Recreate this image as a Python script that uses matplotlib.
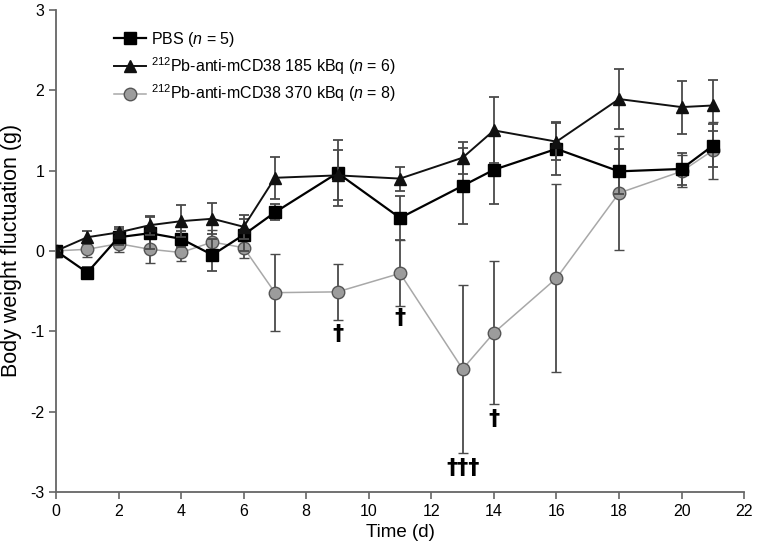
import matplotlib
matplotlib.use("Agg")
import matplotlib.pyplot as plt

plt.rcParams["font.family"] = ["Liberation Sans", "DejaVu Sans"]
plt.rcParams["mathtext.fontset"] = "custom"
plt.rcParams["mathtext.rm"] = "Liberation Sans"
plt.rcParams["mathtext.it"] = "Liberation Sans:italic"
plt.rcParams["axes.unicode_minus"] = False

days = [0, 1, 2, 3, 4, 5, 6, 7, 9, 11, 13, 14, 16, 18, 20, 21]

pbs_mean = [0, -0.27, 0.17, 0.22, 0.15, -0.05, 0.2, 0.48, 0.97, 0.41, 0.81, 1.01, 1.27, 0.99, 1.02, 1.31]
pbs_err = [0, 0.07, 0.1, 0.2, 0.1, 0.2, 0.2, 0.1, 0.41, 0.27, 0.47, 0.43, 0.33, 0.28, 0.2, 0.27]

low_mean = [0, 0.17, 0.23, 0.32, 0.37, 0.4, 0.3, 0.91, 0.94, 0.9, 1.16, 1.5, 1.36, 1.89, 1.79, 1.81]
low_err = [0, 0.08, 0.07, 0.12, 0.2, 0.19, 0.15, 0.26, 0.31, 0.15, 0.2, 0.41, 0.23, 0.37, 0.33, 0.32]

high_mean = [0, 0.02, 0.09, 0.02, -0.02, 0.11, 0.04, -0.52, -0.51, -0.28, -1.47, -1.02, -0.34, 0.72, 0.99, 1.25]
high_err = [0, 0.1, 0.1, 0.17, 0.1, 0.15, 0.13, 0.48, 0.35, 0.41, 1.05, 0.89, 1.17, 0.71, 0.2, 0.35]

death_days = [9, 11, 13, 14]
death_y = [-1.04, -0.84, -2.7, -2.09]
death_marks = ["†", "†", "†††", "†"]

labels = [
    r"PBS ($\it{n}$ = 5)",
    r"$^{212}$Pb-anti-mCD38 185 kBq ($\it{n}$ = 6)",
    r"$^{212}$Pb-anti-mCD38 370 kBq ($\it{n}$ = 8)",
]

fig = plt.figure(figsize=(7.57, 5.49), dpi=100)
ax = fig.add_axes([0.074, 0.104, 0.909, 0.878])

err_kw = dict(ecolor="#4a4a4a", elinewidth=1.3, capsize=3.5, capthick=1.3)

high = ax.errorbar(days, high_mean, yerr=high_err, color="#a8a8a8", lw=1.1, marker="o",
                   markersize=9, markerfacecolor="#9c9c9c", markeredgecolor="#555555",
                   markeredgewidth=1, zorder=2, **err_kw)
pbs = ax.errorbar(days, pbs_mean, yerr=pbs_err, color="black", lw=1.6, marker="s",
                  markersize=9, markerfacecolor="black", markeredgecolor="black",
                  zorder=3, **err_kw)
low = ax.errorbar(days, low_mean, yerr=low_err, color="#111111", lw=1.4, marker="^",
                  markersize=9, markerfacecolor="#111111", markeredgecolor="#111111",
                  zorder=4, **err_kw)

# deaths in the 370 kBq group
for d, y, m in zip(death_days, death_y, death_marks):
    ax.text(d, y, m, ha="center", va="center", fontsize=16, fontweight="bold",
            family=["DejaVu Sans"])

ax.set_xlim(0, 22)
ax.set_ylim(-3, 3)
ax.set_xticks(range(0, 23, 2))
ax.set_yticks(range(-3, 4))
ax.set_xlabel("Time (d)", fontsize=13.5, labelpad=4)
ax.set_ylabel("Body weight fluctuation (g)", fontsize=15.5, labelpad=6)
ax.tick_params(labelsize=11.5, color="#666666", width=1.2, length=5)

for side in ["top", "right"]:
    ax.spines[side].set_visible(False)
for side in ["left", "bottom"]:
    ax.spines[side].set_color("#666666")
    ax.spines[side].set_linewidth(1.3)

ax.legend([pbs[0], low[0], high[0]], labels,
          loc="upper left", bbox_to_anchor=(0.075, 0.972), frameon=False,
          fontsize=11.5, handlelength=2.0, handletextpad=0.3,
          labelspacing=0.38, borderaxespad=0)

fig.savefig("out.png", dpi=100)
plt.close(fig)
